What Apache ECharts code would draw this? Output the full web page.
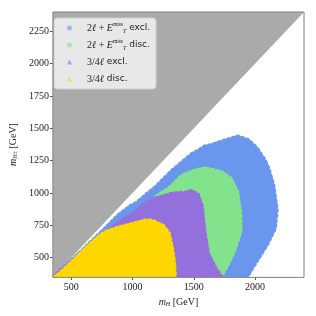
<!DOCTYPE html>
<html><head><meta charset="utf-8">
<script src="https://cdn.jsdelivr.net/npm/echarts@6/dist/echarts.min.js"></script>
<style>html,body{margin:0;padding:0;background:#fff}#c{width:316px;height:316px}</style>
</head><body><div id="c"></div>
<script>
// axis ranges / ticks
const xRange = [350, 2400];
const yRange = [350, 2400];
const xTicks = [500, 1000, 1500, 2000];
const yTicks = [500, 750, 1000, 1250, 1500, 1750, 2000, 2250];

// legend names
const names = ['2l_excl', '2l_disc', '34l_excl', '34l_disc'];

// cloud outlines [mH, m] (GeV)
const blueExcl = [[350,350],[450,440],[583,555],[664,630],[744,700],[878,828],[985,905],[1028,925],[1122,1000],[1186,1049],[1250,1110],[1323,1178],[1400,1240],[1484,1305],[1537,1332],[1591,1365],[1644,1375],[1752,1410],[1859,1440],[1950,1412],[2020,1345],[2080,1260],[2113,1191],[2153,1062],[2181,870],[2167,727],[2100,598],[2033,495],[1980,417],[1940,350]];
const greenDisc = [[1100,900],[1200,980],[1307,1049],[1403,1139],[1500,1175],[1591,1195],[1725,1168],[1805,1113],[1859,1010],[1886,830],[1886,700],[1832,546],[1779,443],[1725,352],[1300,352],[1000,700]];
const purpleExcl = [[350,350],[450,430],[583,540],[690,625],[744,662],[878,768],[1009,845],[1100,920],[1162,955],[1256,980],[1323,1000],[1430,1005],[1484,1020],[1537,990],[1570,900],[1590,714],[1620,536],[1680,420],[1730,352]];
const yellowDisc = [[350,350],[396,375],[503,470],[610,570],[690,640],[770,700],[878,735],[1000,765],[1100,790],[1162,790],[1250,750],[1300,690],[1330,560],[1345,450],[1350,350]];
const excluded = [[350,350],[350,2400],[2400,2400]];
const frame = [[350,350],[350,2400],[2400,2400],[2400,350]];

const colBlue = '#6a96ee', colGreen = '#82e38c', colPurple = '#9370db', colGold = '#ffd700';

function poly(name, pts, fill, opts) {
  opts = opts || {};
  return {
    type: 'custom', name: name, clip: opts.clip !== false, z: opts.z || 2,
    silent: true,
    itemStyle: {color: fill},
    data: [0],
    renderItem: function (params, api) {
      return {
        type: 'polygon',
        shape: {points: pts.map(p => api.coord(p))},
        style: {
          fill: opts.noFill ? null : fill,
          opacity: opts.opacity == null ? 1 : opts.opacity,
          stroke: opts.stroke || fill,
          lineWidth: opts.lw == null ? 3 : opts.lw,
          lineDash: opts.dash === undefined ? [2, 3] : opts.dash,
          lineCap: 'round'
        }
      };
    }
  };
}

const serif = '"Liberation Serif", "DejaVu Serif", serif';
const rich = {
  g: {width: 10},
  i: {fontFamily: serif, fontStyle: 'italic', fontSize: 10, color: '#222'},
  r: {fontFamily: serif, fontSize: 10, color: '#222'},
  sub: {fontFamily: serif, fontStyle: 'italic', fontSize: 6, color: '#222', verticalAlign: 'bottom', padding: [4, 0, 0, 0]},
  sup: {fontFamily: serif, fontSize: 5.5, color: '#222', verticalAlign: 'top', padding: [0, 0, 5, 0]},
  s: {fontFamily: '"DejaVu Sans", sans-serif', fontSize: 9, color: '#222'}
};
const labels = {
  '2l_excl': '{g|}{r|2}{i|ℓ}{r| + }{i|E}{sup|miss}{sub|T}{s| excl.}',
  '2l_disc': '{g|}{r|2}{i|ℓ}{r| + }{i|E}{sup|miss}{sub|T}{s| disc.}',
  '34l_excl': '{g|}{r|3/4}{i|ℓ}{s| excl.}',
  '34l_disc': '{g|}{r|3/4}{i|ℓ}{s| disc.}'
};

const chart = echarts.init(document.getElementById('c'), null, {renderer: 'canvas'});
chart.setOption({
  animation: false,
  backgroundColor: '#fff',
  grid: {left: 49, right: 12, top: 12, bottom: 39, containLabel: false},
  xAxis: {
    type: 'value', min: xRange[0], max: xRange[1],
    name: '{i|m}{sub|H}{r| [GeV]}', nameLocation: 'middle', nameGap: 20,
    nameTextStyle: {rich: rich},
    splitLine: {show: false},
    axisLine: {show: false},
    axisTick: {show: true, length: 3, lineStyle: {color: '#555'}, customValues: xTicks},
    axisLabel: {fontFamily: serif, fontSize: 10, color: '#222', margin: 5, customValues: xTicks, formatter: v => String(v)}
  },
  yAxis: {
    type: 'value', min: yRange[0], max: yRange[1],
    name: '{i|m}{sub|H±}{r| [GeV]}', nameLocation: 'middle', nameGap: 23, nameRotate: 90,
    nameTextStyle: {rich: rich},
    splitLine: {show: false},
    axisLine: {show: false},
    axisTick: {show: true, length: 3, lineStyle: {color: '#555'}, customValues: yTicks},
    axisLabel: {fontFamily: serif, fontSize: 10, color: '#222', margin: 4, customValues: yTicks, formatter: v => String(v)}
  },
  legend: {
    left: 54, top: 18, orient: 'vertical',
    padding: [4, 6, 4, 13], itemGap: 5, itemWidth: 5, itemHeight: 5,
    backgroundColor: 'rgba(235,235,235,0.95)', borderColor: '#cfcfcf', borderWidth: 1, borderRadius: 3,
    selectedMode: false,
    data: [
      {name: names[0], icon: 'circle', itemStyle: {color: colBlue, opacity: 0.6}},
      {name: names[1], icon: 'circle', itemStyle: {color: colGreen, opacity: 0.6}},
      {name: names[2], icon: 'triangle', itemStyle: {color: colPurple, opacity: 0.6}},
      {name: names[3], icon: 'triangle', itemStyle: {color: colGold, opacity: 0.6}}
    ],
    formatter: n => labels[n],
    textStyle: {rich: rich, lineHeight: 12, fontSize: 10}
  },
  series: [
    poly('excl_region', excluded, '#aaaaaa', {z: 1, dash: null, lw: 0}),
    poly(names[0], blueExcl, colBlue, {z: 2}),
    poly(names[1], greenDisc, colGreen, {z: 3}),
    poly(names[2], purpleExcl, colPurple, {z: 4}),
    poly(names[3], yellowDisc, colGold, {z: 5}),
    poly('frame', frame, '#808080', {z: 6, noFill: true, lw: 1, dash: null, clip: false})
  ]
});
</script>
</body></html>
